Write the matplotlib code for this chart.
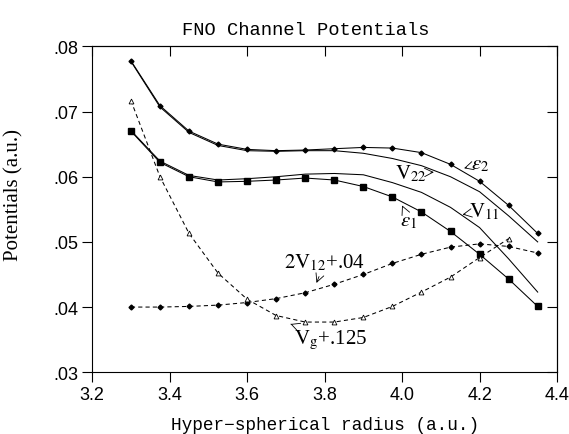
import matplotlib.pyplot as plt

plt.rcParams["mathtext.fontset"] = "stix"

# hyper-spherical radius grid (a.u.)
rho = [3.300, 3.375, 3.450, 3.525, 3.600, 3.675, 3.750, 3.825,
       3.900, 3.975, 4.050, 4.125, 4.200, 4.275, 4.350]

eps2 = [0.0778, 0.0709, 0.0670, 0.0650, 0.0642, 0.0640, 0.0641, 0.0643,
        0.0645, 0.0644, 0.0637, 0.0619, 0.0593, 0.0556, 0.0513]
v22 = [0.0777, 0.0707, 0.0668, 0.0648, 0.0640, 0.0639, 0.0640, 0.0640,
       0.0636, 0.0628, 0.0617, 0.0600, 0.0577, 0.0540, 0.0500]
eps1 = [0.0670, 0.0622, 0.0600, 0.0592, 0.0593, 0.0595, 0.0598, 0.0595,
        0.0585, 0.0569, 0.0546, 0.0516, 0.0481, 0.0443, 0.0401]
v11 = [0.0671, 0.0624, 0.0602, 0.0595, 0.0597, 0.0600, 0.0604, 0.0605,
       0.0603, 0.0591, 0.0576, 0.0553, 0.0522, 0.0474, 0.0423]
v12 = [0.0400, 0.0400, 0.0401, 0.0403, 0.0407, 0.0413, 0.0422, 0.0435,
       0.0450, 0.0467, 0.0481, 0.0492, 0.0497, 0.0493, 0.0483]
rho_g = rho[:14]
vg = [0.0717, 0.0600, 0.0513, 0.0452, 0.0412, 0.0387, 0.0377, 0.0377,
      0.0384, 0.0401, 0.0423, 0.0446, 0.0476, 0.0505]

mono = "Liberation Mono"
serif = "Liberation Serif"

fig = plt.figure(figsize=(5.69, 4.35), dpi=100)
ax = fig.add_axes([0.162, 0.142, 0.817, 0.749])

lw = 0.75
ax.plot(rho, eps2, "-", color="black", lw=lw, marker="D", ms=2.5)
ax.plot(rho, v22, "-", color="black", lw=lw)
ax.plot(rho, eps1, "-", color="black", lw=lw, marker="s", ms=4.5)
ax.plot(rho, v11, "-", color="black", lw=lw)
ax.plot(rho, v12, "--", color="black", lw=lw, marker="D", ms=2.5,
        dashes=(4, 3))
ax.plot(rho_g, vg, "--", color="black", lw=lw, marker="^", ms=3.5,
        mfc="white", mew=0.6, dashes=(4, 3))

ax.set_xlim(3.2, 4.4)
ax.set_ylim(0.03, 0.08)
xt = [3.2, 3.4, 3.6, 3.8, 4.0, 4.2, 4.4]
yt = [0.03, 0.04, 0.05, 0.06, 0.07, 0.08]
ax.set_xticks(xt)
ax.set_xticklabels(["%.1f" % v for v in xt], family="Liberation Sans")
ax.set_yticks(yt)
ax.set_yticklabels([(".%02d" % round(v * 100)) for v in yt],
                   family="Liberation Sans")
ax.tick_params(axis="both", labelsize=13, width=0.8, length=7,
               direction="out", pad=3)
for s in ax.spines.values():
    s.set_linewidth(0.8)

# top/right ticks point inward, no labels
top = ax.secondary_xaxis("top")
top.set_xticks(xt)
top.tick_params(direction="in", length=7, width=0.8, labeltop=False)
right = ax.secondary_yaxis("right")
right.set_yticks(yt)
right.tick_params(direction="in", length=7, width=0.8, labelright=False)

ax.set_title("FNO Channel Potentials", family=mono, fontsize=13.5, pad=9,
             x=0.46)
ax.set_xlabel("Hyper\u2212spherical radius (a.u.)", family=mono,
              fontsize=12.8)
ax.xaxis.set_label_coords(0.5, -0.135)
ax.set_ylabel("Potentials (a.u.)", family=serif, fontsize=15)
ax.yaxis.set_label_coords(-0.148, 0.546)

ap = dict(arrowstyle="->", lw=0.6, color="black", shrinkA=1, shrinkB=0)
fs = 15
kw = dict(fontsize=fs, family=serif, ha="left", va="center", arrowprops=ap)
ax.annotate(r"$\varepsilon_2$", xy=(4.160, 0.0613), xytext=(4.177, 0.0620),
            **kw)
ax.annotate(r"$\mathrm{V}_{22}$", xy=(4.082, 0.0607),
            xytext=(3.982, 0.0606), **kw)
ax.annotate(r"$\mathrm{V}_{11}$", xy=(4.156, 0.0542),
            xytext=(4.174, 0.0548), **kw)
ax.annotate(r"$\varepsilon_1$", xy=(4.00, 0.0556), xytext=(3.995, 0.0533),
            **kw)
ax.annotate(r"$2\mathrm{V}_{12}$+.04", xy=(3.779, 0.0437),
            xytext=(3.696, 0.0469), **kw)
ax.annotate(r"$\mathrm{V}_{\rm g}$+.125", xy=(3.712, 0.0374),
            xytext=(3.722, 0.0351), **kw)

fig.savefig("out.png", dpi=100)
